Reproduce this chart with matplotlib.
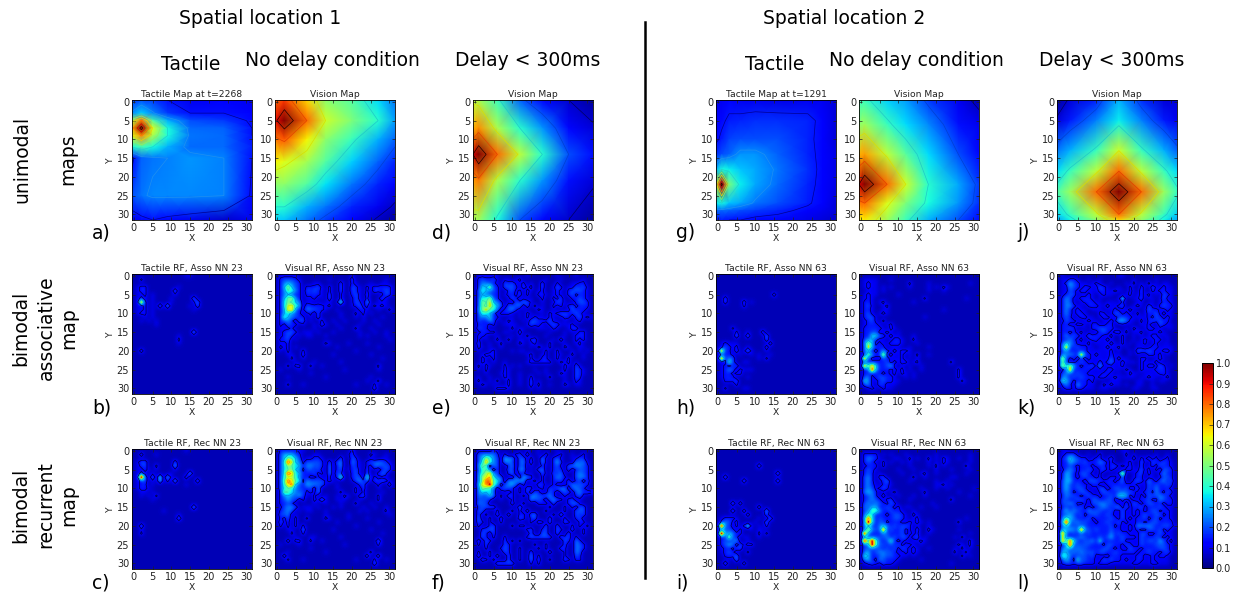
import matplotlib
matplotlib.use('Agg')
import numpy as np
import matplotlib.pyplot as plt
from matplotlib.cm import ScalarMappable
from matplotlib.colors import Normalize

W, H = 1246, 593

# smooth maps: values read at a few grid nodes
A1_X = [-0.5, 2, 5, 9, 15, 24, 31.5]
A1_Y = [-0.5, 3, 5, 7, 9, 12, 15, 25, 31.5]
A1_V = [[.18, .20, .18, .14, .10, .11, .10],
        [.26, .33, .26, .18, .14, .14, .12],
        [.55, .78, .45, .30, .20, .18, .13],
        [.72, 1.0, .62, .38, .23, .22, .14],
        [.62, .76, .56, .38, .24, .23, .14],
        [.38, .44, .38, .30, .23, .23, .15],
        [.12, .22, .24, .25, .27, .25, .14],
        [.20, .24, .26, .26, .26, .25, .13],
        [.10, .12, .14, .12, .10, .07, .10]]

A2_X = [-0.5, 2, 8, 13, 20, 27, 31.5]
A2_Y = [-0.5, 5, 10, 16, 22, 28, 31.5]
A2_V = [[.80, .85, .68, .52, .45, .34, .24],
        [.90, 1.0, .80, .60, .50, .40, .28],
        [.78, .82, .65, .52, .42, .30, .22],
        [.65, .62, .55, .45, .33, .22, .16],
        [.52, .52, .45, .35, .24, .16, .11],
        [.40, .40, .30, .24, .16, .10, .06],
        [.33, .32, .24, .18, .12, .06, .03]]

D_X = [-0.5, 1, 6, 12, 18, 25, 31.5]
D_Y = [-0.5, 7, 14, 21, 31.5]
D_V = [[.58, .56, .42, .22, .13, .07, .03],
       [.72, .76, .56, .40, .27, .13, .08],
       [.92, 1.0, .80, .58, .40, .20, .14],
       [.74, .78, .56, .40, .27, .14, .08],
       [.55, .54, .38, .20, .13, .07, .03]]

G_X = [-0.5, 1, 3, 6, 10, 16, 24, 28, 31.5]
G_Y = [-0.5, 5, 10, 14, 18, 22, 27, 29, 31.5]
G_V = [[.10, .10, .12, .10, .10, .09, .10, .10, .08],
       [.12, .13, .15, .16, .17, .17, .16, .12, .08],
       [.13, .15, .19, .20, .20, .20, .16, .11, .08],
       [.17, .20, .22, .27, .27, .22, .16, .12, .09],
       [.30, .38, .36, .32, .29, .24, .17, .12, .09],
       [.60, 1.0, .50, .36, .29, .23, .16, .12, .09],
       [.35, .38, .32, .29, .24, .20, .15, .11, .08],
       [.22, .23, .22, .20, .18, .16, .12, .10, .08],
       [.14, .15, .14, .14, .12, .11, .09, .08, .07]]

H2_X = [-0.5, 1, 7, 12, 18, 26, 31.5]
H2_Y = [-0.5, 6, 14, 22, 27, 31.5]
H2_V = [[.42, .42, .33, .28, .18, .10, .05],
        [.52, .54, .42, .34, .26, .14, .10],
        [.72, .74, .58, .46, .34, .20, .13],
        [.92, 1.0, .80, .60, .40, .29, .18],
        [.78, .80, .62, .50, .38, .27, .17],
        [.65, .66, .54, .42, .30, .20, .13]]

J_X = [-0.5, 3, 10, 16, 22, 28, 31.5]
J_Y = [-0.5, 5, 13, 18.5, 24, 30, 31.5]
J_V = [[.03, .08, .16, .30, .17, .08, .08],
       [.08, .15, .25, .36, .25, .15, .10],
       [.24, .30, .42, .60, .42, .30, .22],
       [.34, .42, .58, .80, .58, .42, .34],
       [.44, .54, .80, 1.0, .80, .54, .42],
       [.34, .42, .58, .80, .58, .42, .33],
       [.28, .37, .52, .68, .52, .37, .28]]

# receptive fields: one char per cell, base 36 in twentieths (2 = 0.1, a = 0.5, k = 1.0)
# short rows carry on with the background value 1
B1 = ["1111111111111122", "11311", "1", "1233111111112", "123311111115", "12231211111211",
      "123212111121111151", "12d3121111211111251", "122312151611111214",
      "12231211111111112", "12331211", "111212", "112121211", "11111121",
      "1", "111111111111111161", "1111111111112", "111111111111311", "1111111111112111",
      "1", "1141", "1", "1", "1", "1", "1", "1", "1", "1", "1", "1", "1"]
B2 = ["12222211111111111111211111111111",
      "13444321111111211111411111111211",
      "13565431112211111411321112112211",
      "136b6431333421311411432132333331",
      "13598531434321311411432131433431",
      "13564331333321411311342141112431",
      "136ab531223121411311242131124211",
      "137a8651221212212811243161122211",
      "137cd861433332311111234231323211",
      "136de532544332112111113321121131",
      "13675431231411111211131312111111",
      "1396543312141111121112121111211",
      "1345314412113112112111121121111",
      "1324331211214211211111211112111",
      "1222311111211111121113111211111",
      "1234431222121112111111211121121",
      "1234312122111211111111212111121",
      "1334121111111111111111111111112",
      "1223111111111321111211112111111",
      "1323121111111111211111111112111",
      "1213111311111111111112111111111",
      "1112211411111112111111111211111",
      "1111311211111111111111111111211",
      "1111121111211111121111111111111",
      "1113133113112111111111111113111",
      "1211112111111111112111111112111",
      "1111111112111111111111111111111",
      "1112111111111211111111111211111",
      "1111111111111111111111112113111",
      "1113111211111111111112111131121",
      "1111111111111111111111111141111",
      "1"]
C1 = ["111111111111112", "11411121", "1", "12441111111411", "123411311116", "122321211112",
      "1232121111211116", "12j415171621114", "1234121613161111151",
      "1233121111111121", "12332111", "112212", "1121213", "1111121",
      "1", "111111111111111161", "11111111211", "1111111111112", "1111111111115",
      "111111111111111", "1151", "1121", "1131", "1", "1", "1", "1", "1", "1", "1", "1", "1"]
C2 = ["13333322111111111111311111111111",
      "14666431112211111112411113211211",
      "146a9641223321111411431112112211",
      "147ic652444431414511532134454321",
      "147a9763554431513511432132544431",
      "1479a652443421513412342141213431",
      "147ie763334231514311342141135311",
      "148bb853322312313911344191322211",
      "149hd972544442321111245341434321",
      "148eg643655442112111113411131141",
      "14797543341511112111131411121111",
      "13a9754423251111131113131111211",
      "13565463213112112132113411131111",
      "1346441311325211222111211113111",
      "1334311111211211121113111211111",
      "1245541222121112121111121121121",
      "1345412122111211111111212111131",
      "1445121111111211111211111111112",
      "1324131131111321111211112111111",
      "1423131111111111211111111112111",
      "1313131311111111111112111111111",
      "1112211511111112111111111211111",
      "1111311311111111111111111111211",
      "1111121112211111121111111111111",
      "1114133113112111111111111115111",
      "1211112111111111112111111113111",
      "1111111112111111111111111111111",
      "1112111111111211111111111311111",
      "1141111111111111111111114114111",
      "1113111211111111111112111131121",
      "1111111111111111111111111151111",
      "1"]
E = ["12222221111111211111112111121111",
     "13433421221231111112111211111211",
     "1355432143422312114111311122331",
     "1376a43144431423114112431224342",
     "1486543113423132123112321344432",
     "1465433123324131133212321342332",
     "1487b43112431212113113241133432",
     "14a9c65312143542112112432113443",
     "14a8d86414445141312113231342333",
     "15ad985134531211132112111243332",
     "148764133321213211213234433432",
     "14557331112121313221321233134232",
     "1433541213211214433342212112311",
     "1333231122221124332134322231111",
     "14331111113122111222132112341111",
     "1233331122114111111121112121331",
     "1332112111212131111211112113331",
     "1312113113112213411112141113231",
     "1411211311113212311131112112311",
     "1321211211111112132131113211221",
     "1211231111212211111311311121212",
     "1123331111111123112311321131121",
     "1132131111111113113311311311121",
     "1132121121111123333331132312111",
     "1313211131212111111111113214211",
     "1213111132111111211211113114321",
     "1112111232112111121211132114321",
     "1211211132112113111131112114311",
     "1311213113112114121111112113211",
     "1132121113112114131121113212211",
     "1111113332111112121111111111111",
     "1"]
F = ["12222321111111211211112111111111",
     "14555531311341411214112311211311",
     "146b854165514413115213421122431",
     "147e954155414514115213631115452",
     "15a8154113514412113213421455543",
     "1489514114415512145113431413443",
     "158bd54113513312114214351114543",
     "15bcf75411151653113113543114553",
     "15ahg97515556512313113341413414",
     "16dfj96145641312143213212354443",
     "15a975144431314312314345514543",
     "15768411213131414312431344145343",
     "1544651314311315544453113113421",
     "1444311211312115443145431341211",
     "15441111114113111333141113452111",
     "1344441111115111111131113131441",
     "1441113111313141111311113114441",
     "1413114114113314511113151114341",
     "1511311411114313411141113113411",
     "1431311311111113143141114311331",
     "1311341111313311111411411131313",
     "1134441111111134113411431141131",
     "1143141111111114114411411411131",
     "1143131131111134444441143413111",
     "1414311141313111111111114315311",
     "1314111143111111311311114115431",
     "1113111343113111131311143115431",
     "1311311143113114111141113115411",
     "1411314114113115131111113114311",
     "1143131114113115141131114313311",
     "1111114444411113131111111111111",
     "1"]
H1 = ["1", "1", "1", "1", "1", "1111111111111114", "1141111111111111",
      "1141111412111111", "1111111311111111", "1", "1", "1", "1", "1",
      "11113111111111", "11111311211141", "1111151151111511", "111111111111141",
      "123222111111114", "124323112111141", "1d3314125211121", "133321211212112",
      "1e3541111112131", "122841122111", "123234111111", "12354132221", "123323311", "1233311121",
      "1133341111", "1111131", "113111122", "1"]
I1 = ["1", "1", "1", "1", "111111111115", "1111111111111", "111111111111111151",
      "11511111111111", "11111115111111115", "1", "1", "1", "1", "1",
      "111151411111", "1111111111141", "1111511411111611", "111111114111141",
      "123332111112115", "135423111121151", "1i4413137212131", "144431311212211",
      "1j5653311113131", "133a43122112", "1343461121", "13465142331", "1233244111", "1234311131",
      "1133351111", "1112151", "115111141", "1"]
K1 = ["1", "12222111211111111111111111111111", "12322111111113111121111111111211",
      "12322121211112111121213211111111", "11222121111111111121112111111111",
      "12322111112111111111111111111111", "12321111111111111311111111112111",
      "13321231111111211111111111111111", "13421123111111111111111111111111",
      "13321122111111111111112111111111", "13421232111111111111111111111111",
      "13442111111111111211111111111111", "12342131111111111111111111111111",
      "12333212311111111111111111111111", "13333321321111111111111111111111",
      "13344223212111111111111111111111", "13377432322111211111111111111111",
      "14563221233211311111111111111111", "15b62322333211121111111111111111",
      "14d6333122211211112111111111111", "15532353232332111111111111111111",
      "13a533c2322312131121111111111111", "1d42224322231212111111111111111",
      "14333334232331231111111131111111", "1d8e73346212121121111111111111111",
      "134g6333232312112111111111311111", "13333323231321211111111111311111",
      "14523443321121211111111111311111", "17522343322111111111111111131111",
      "1452143222111111111111111111111", "1123213221111111111111111111111", "1"]
L1 = ["1", "13333121211121111111211111111211", "13543211122113121131213211211211",
      "13432131211212111121213211111211", "12333131111112111121312111113111",
      "13432111112111211111211121111211", "13431211111211112311211111112111",
      "14531341111111311211111122111111", "14531235111112111111211211111111",
      "14532133211111111111223121111111", "14542343111111112111211211111121",
      "15653121231111111311111111211111", "13453141112111211211111111111211",
      "13454313411112111111111131111111", "14545432431111111112111111111111",
      "15466334323122112111211111111111", "14599533433211211111111111111111",
      "15773332344321321111111111111111", "16g73433344321231111111111112111",
      "15j7344233322323212111111131111", "16643565343443121121111111111111",
      "14c544f3433423141132111111211111", "1g53335433342323112111111111121",
      "15444445343442341211111112131111", "1i9j843483232122321111111111131",
      "145j844343423321211111111132131", "14444434342432321121111112131211",
      "15634554432232321111111113113111", "18633454433221211111111111131211",
      "1563254333211111211111111111111", "1234324332111111111111112111111", "1"]
J2 = ["12111111111111112211111111111111",
      "12233211211211111111211111211111",
      "12364322123211211121312131212211",
      "12254323322432112113113214223221",
      "12243233222332232213214113233221",
      "12344122321232211123123231214321",
      "13542233321211112711224122124221",
      "13542123332212221311122112123321",
      "13553221333223223411232142134331",
      "13532322122212232223211243322321",
      "13532332111331244232131233423221",
      "13431233221233223433222232432321",
      "12433212322122326652213134343311",
      "13322332133223311212112231143221",
      "13343112133443321121321233221221",
      "13323231212343234131223122232111",
      "13534322433322311311212123312211",
      "13353231233223211311212322331211",
      "14754222312222321312122312312211",
      "15d43433221223223121122123322221",
      "14533333222222312112144443223321",
      "155543d4323222322112121133231211",
      "1c423232322222423221113311232111",
      "1a322343222323522322213222321211",
      "1c7b6323342622222311113233243121",
      "124e3333322213322132113222333211",
      "1454343322223321211322122223321",
      "15534343332332232222212232212311",
      "1864233323111122211112211212211",
      "1353163322113232212112211211111",
      "1233233222122211111122111221111",
      "1"]
J3 = ["12211111111111111221111111111111",
      "12344211211311111131211111211211",
      "13475433123312411121413242312311",
      "13365434333542311123114214334321",
      "13343233323332342323214123243321",
      "12454233431342321133224231314431",
      "13653244321311113c11234132135331",
      "13653234332312331411233122124431",
      "14663331444333323511343253245341",
      "14643433233213333333322243433431",
      "14643443122441344342241243533321",
      "14542344321344334544322342532431",
      "13544323433233437762313244454321",
      "14433443244334422323223342254331",
      "14454223144554432232432344332331",
      "13434342323454345242334233343221",
      "14645433544433422422323234423321",
      "14464342344334322422323433442321",
      "15865333423333432423233423423321",
      "16i54544332334334232233234433331",
      "15644444333333423223255554334432",
      "166654f5434333433223232244342321",
      "1f534343433333534332224422343221",
      "1c433454333434633433324333432321",
      "1e8g7434453733333422224344364231",
      "135i4444433324433243224333444321",
      "1565454433334432322433233334432",
      "16645454443443343333323343323421",
      "1975344434222233322223322323321",
      "1464274433224343323223322322221",
      "1344344333233322222233222332221",
      "1"]

TICKS = [0, 5, 10, 15, 20, 25, 30]
CBAR_TICKS = [0.0, 0.1, 0.2, 0.3, 0.4, 0.5, 0.6, 0.7, 0.8, 0.9, 1.0]
COLS_PX = [132, 275, 473, 716, 859, 1057]
ROWS_PX = [100, 274, 449]
SIZE_PX = 120

TACT_LEVELS = [.14, .25, .38, .5, .62, .75, .87, .95]
TACT_COLORS = ['#000090', '#2090f0', '#20d0d0', '#90f060', '#f0d000', '#ff7000', '#d00000', '#300000']
VIS_LEVELS = [.07, .2, .4, .6, .8, .92]
VIS_COLORS = ['#000060', '#0040d0', '#20c8c8', '#d8e000', '#e04000', '#200000']
RF_LEVELS = [.125, .3, .45, .6, .75, .9]
RF_COLORS = ['#000040', '#0090e0', '#30e0b0', '#c0f000', '#ff9000', '#d00000']


def px_axes(x, y, w, h):
    return fig.add_axes([x / W, 1 - (y + h) / H, w / W, h / H])


def px_text(x, y, s, **kw):
    kw.setdefault('ha', 'center')
    kw.setdefault('va', 'center')
    fig.text(x / W, 1 - y / H, s, **kw)


def style_axes(ax, title, ylabel=True):
    ax.set_xlim(-0.5, 31.5)
    ax.set_ylim(31.5, -0.5)
    ax.set_xticks(TICKS)
    ax.set_yticks(TICKS)
    ax.tick_params(direction='in', top=True, right=True, length=2.5, width=0.5,
                   labelsize=7, pad=2, colors='#222222')
    ax.set_title(title, fontsize=6.6, pad=2, color='#222222')
    ax.set_xlabel('X', fontsize=6.6, labelpad=1, color='#222222')
    if ylabel:
        ax.set_ylabel('Y', fontsize=6.6, labelpad=1, color='#222222')
    for s in ax.spines.values():
        s.set_linewidth(0.6)


def draw_smooth(ax, xs, ys, vals, title, levels=VIS_LEVELS, colors=VIS_COLORS, ylabel=True):
    vals = np.array(vals)
    ax.pcolormesh(xs, ys, vals, shading='gouraud', cmap='jet', vmin=0, vmax=1)
    ax.contour(xs, ys, vals, levels=levels, colors=colors, linewidths=0.5)
    style_axes(ax, title, ylabel)


def draw_rf(ax, rows, title, ylabel=True):
    vals = np.array([[int(c, 36) / 20 for c in r.ljust(32, '1')[:32]] for r in rows])
    ax.imshow(vals, cmap='jet', vmin=0, vmax=1, interpolation='bicubic', aspect='auto')
    ax.contour(vals, levels=RF_LEVELS, colors=RF_COLORS, linewidths=0.5)
    style_axes(ax, title, ylabel)


fig = plt.figure(figsize=(W / 100, H / 100), dpi=100)

draw_smooth(px_axes(COLS_PX[0], ROWS_PX[0], SIZE_PX, SIZE_PX), A1_X, A1_Y, A1_V, 'Tactile Map at t=2268',
            TACT_LEVELS, TACT_COLORS)
draw_smooth(px_axes(COLS_PX[1], ROWS_PX[0], SIZE_PX, SIZE_PX), A2_X, A2_Y, A2_V, 'Vision Map', ylabel=False)
draw_smooth(px_axes(COLS_PX[2], ROWS_PX[0], SIZE_PX, SIZE_PX), D_X, D_Y, D_V, 'Vision Map')
draw_smooth(px_axes(COLS_PX[3], ROWS_PX[0], SIZE_PX, SIZE_PX), G_X, G_Y, G_V, 'Tactile Map at t=1291',
            TACT_LEVELS, TACT_COLORS)
draw_smooth(px_axes(COLS_PX[4], ROWS_PX[0], SIZE_PX, SIZE_PX), H2_X, H2_Y, H2_V, 'Vision Map', ylabel=False)
draw_smooth(px_axes(COLS_PX[5], ROWS_PX[0], SIZE_PX, SIZE_PX), J_X, J_Y, J_V, 'Vision Map')

draw_rf(px_axes(COLS_PX[0], ROWS_PX[1], SIZE_PX, SIZE_PX), B1, 'Tactile RF, Asso NN 23')
draw_rf(px_axes(COLS_PX[1], ROWS_PX[1], SIZE_PX, SIZE_PX), B2, 'Visual RF, Asso NN 23', ylabel=False)
draw_rf(px_axes(COLS_PX[2], ROWS_PX[1], SIZE_PX, SIZE_PX), E, 'Visual RF, Asso NN 23')
draw_rf(px_axes(COLS_PX[3], ROWS_PX[1], SIZE_PX, SIZE_PX), H1, 'Tactile RF, Asso NN 63')
draw_rf(px_axes(COLS_PX[4], ROWS_PX[1], SIZE_PX, SIZE_PX), K1, 'Visual RF, Asso NN 63', ylabel=False)
draw_rf(px_axes(COLS_PX[5], ROWS_PX[1], SIZE_PX, SIZE_PX), J2, 'Visual RF, Asso NN 63')

draw_rf(px_axes(COLS_PX[0], ROWS_PX[2], SIZE_PX, SIZE_PX), C1, 'Tactile RF, Rec NN 23')
draw_rf(px_axes(COLS_PX[1], ROWS_PX[2], SIZE_PX, SIZE_PX), C2, 'Visual RF, Rec NN 23', ylabel=False)
draw_rf(px_axes(COLS_PX[2], ROWS_PX[2], SIZE_PX, SIZE_PX), F, 'Visual RF, Rec NN 23')
draw_rf(px_axes(COLS_PX[3], ROWS_PX[2], SIZE_PX, SIZE_PX), I1, 'Tactile RF, Rec NN 63')
draw_rf(px_axes(COLS_PX[4], ROWS_PX[2], SIZE_PX, SIZE_PX), L1, 'Visual RF, Rec NN 63', ylabel=False)
draw_rf(px_axes(COLS_PX[5], ROWS_PX[2], SIZE_PX, SIZE_PX), J3, 'Visual RF, Rec NN 63')

# colorbar
cax = px_axes(1202, 363, 11, 205)
cb = fig.colorbar(ScalarMappable(Normalize(0, 1), cmap='jet'), cax=cax, ticks=CBAR_TICKS)
cb.ax.tick_params(direction='in', length=3, width=0.5, labelsize=7, pad=2, colors='#222222')
cb.outline.set_linewidth(0.7)

# headers
px_text(260, 18, 'Spatial location 1', fontsize=13.5)
px_text(844, 18, 'Spatial location 2', fontsize=13.5)
for x, s, y in [(191, 'Tactile', 64), (332, 'No delay condition', 61), (528, 'Delay < 300ms', 61),
                (775, 'Tactile', 64), (916, 'No delay condition', 61), (1112, 'Delay < 300ms', 61)]:
    px_text(x, y, s, fontsize=13.5)

# row labels
for x, y, s in [(22, 159, 'unimodal'), (68, 159, 'maps'),
                (21, 328, 'bimodal'), (46, 328, 'associative'), (69, 328, 'map'),
                (21, 505, 'bimodal'), (46, 505, 'recurrent'), (69, 505, 'map')]:
    px_text(x, y, s, fontsize=13.5, rotation=90)

# panel letters
for x, y, s in [(92, 233, 'a)'), (92, 408, 'b)'), (92, 583, 'c)'),
                (432, 233, 'd)'), (432, 408, 'e)'), (432, 583, 'f)'),
                (676, 233, 'g)'), (676, 408, 'h)'), (676, 583, 'i)'),
                (1017, 233, 'j)'), (1017, 408, 'k)'), (1017, 583, 'l)')]:
    px_text(x, y, s, fontsize=13.5, ha='left', va='center')

# divider between the two locations
fig.add_artist(plt.Line2D([645 / W, 645 / W], [1 - 22 / H, 1 - 578 / H], color='k', linewidth=1.8))

fig.savefig('out.png', dpi=100)
